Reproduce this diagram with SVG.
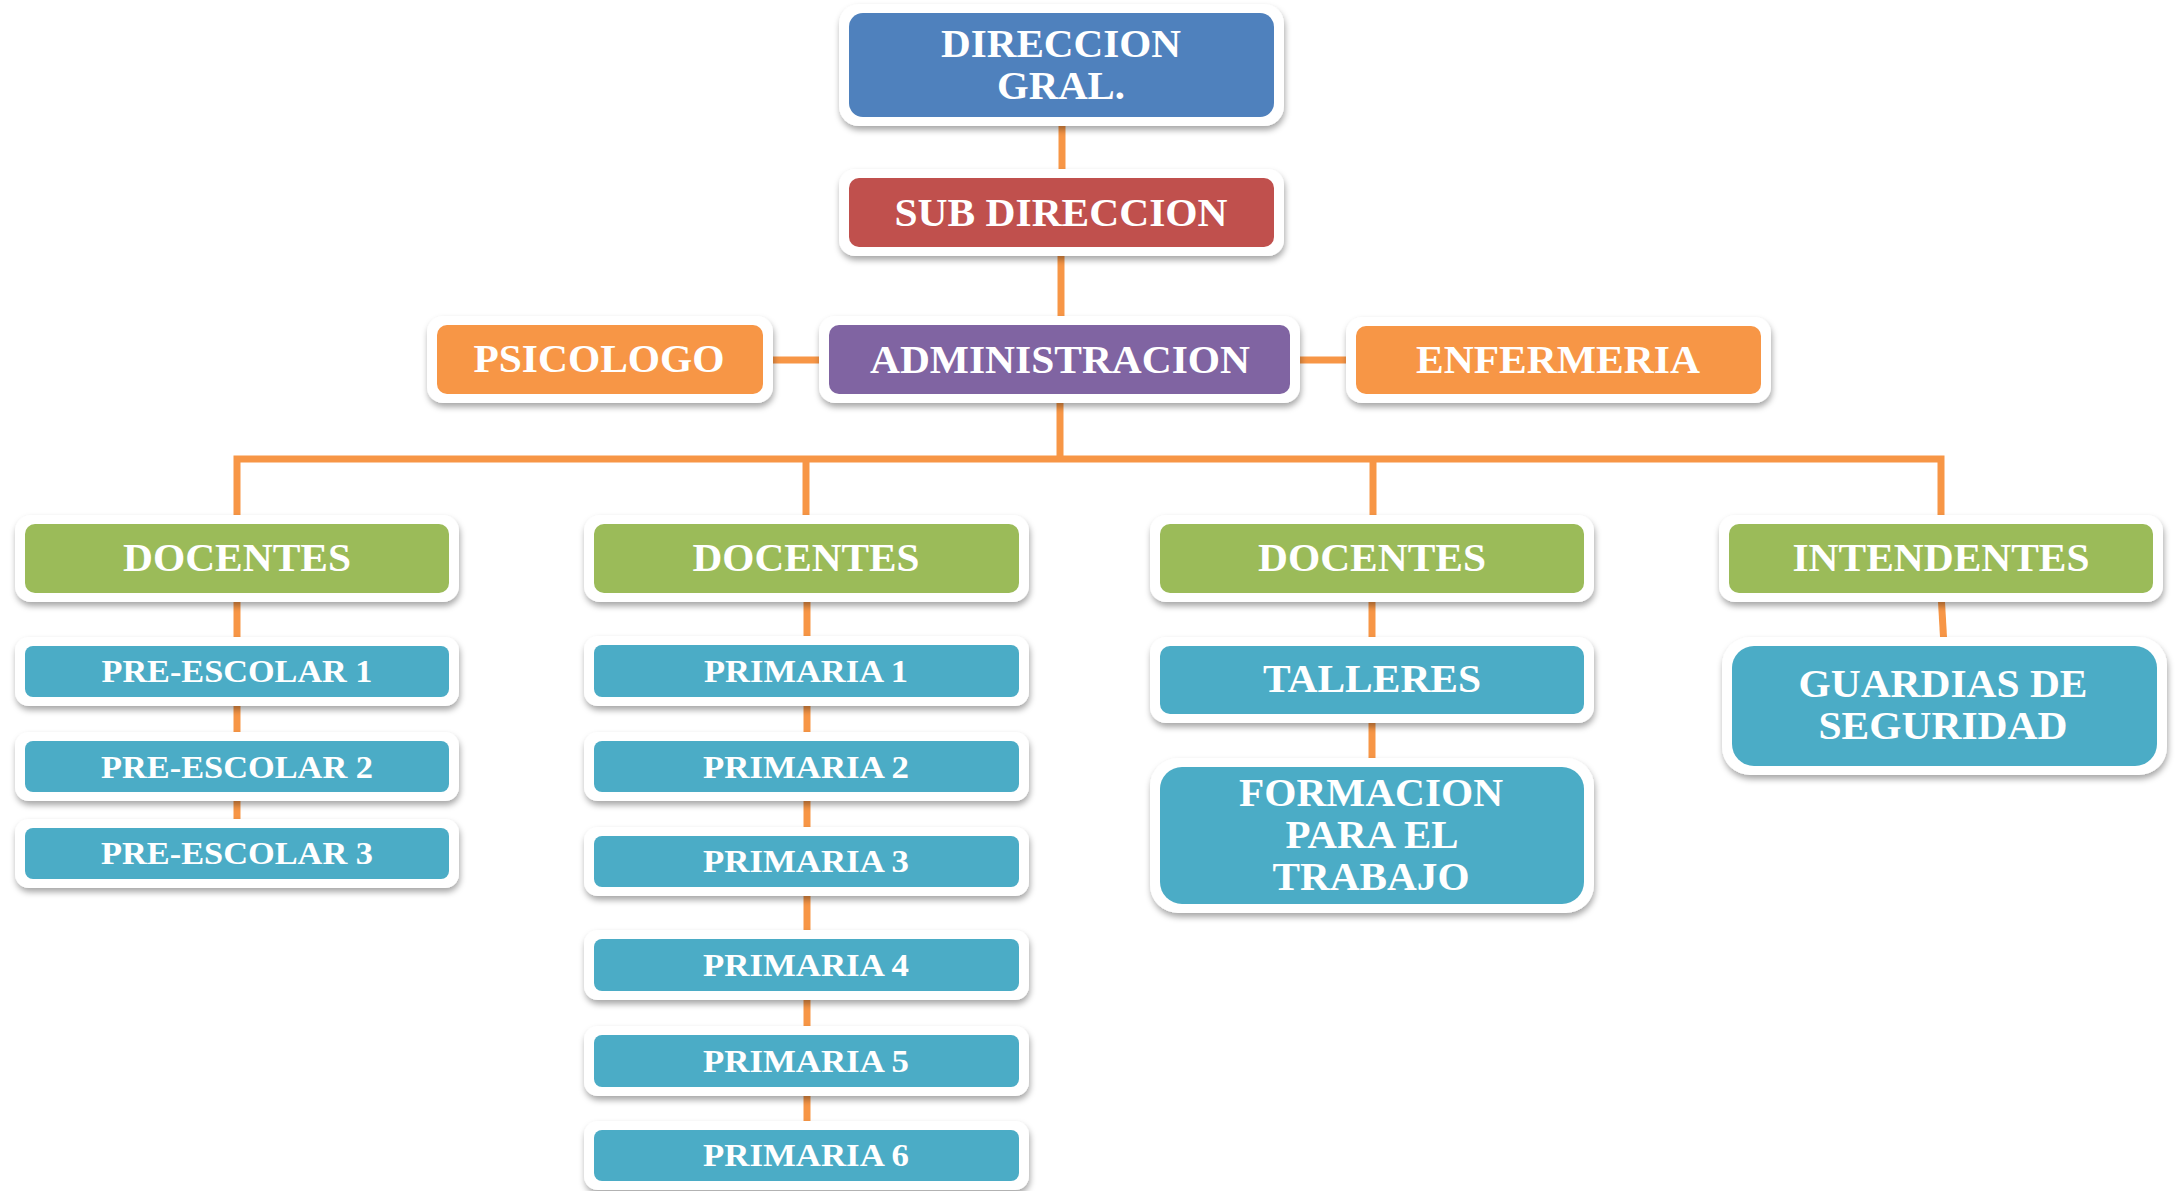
<svg xmlns="http://www.w3.org/2000/svg" width="2176" height="1191" viewBox="0 0 2176 1191">
<defs>
<filter id="sh" x="-10%" y="-20%" width="120%" height="150%">
<feDropShadow dx="1" dy="4" stdDeviation="3" flood-color="#000" flood-opacity="0.35"/>
</filter>
<style>
.frame{fill:#ffffff;filter:url(#sh)}
.blue{fill:#4F81BD}.red{fill:#C0504D}.purple{fill:#8064A2}.orange{fill:#F79646}.green{fill:#9BBB59}.teal{fill:#4BACC6}
.t{font-family:"Liberation Serif","Times New Roman",serif;font-weight:bold;fill:#ffffff;text-anchor:middle}
.big{font-size:39px}.small{font-size:31px}
.conn{fill:none;stroke:#F79646;stroke-width:7;stroke-linejoin:miter}
</style>
</defs>
<rect width="2176" height="1191" fill="#ffffff"/>
<g id="connectors" class="conn">
<path d="M1062,117 V178"/>
<path d="M1061,247 V325"/>
<path d="M763,360 H829"/>
<path d="M1290,360 H1356"/>
<path d="M1060,394 V459"/>
<path d="M237,524 V459 H1941 V524"/>
<path d="M806,459 V524"/>
<path d="M1373,459 V524"/>
<path d="M237,593 V646"/>
<path d="M237,697 V741"/>
<path d="M237,792 V828"/>
<path d="M807,593 V645"/>
<path d="M807,697 V741"/>
<path d="M807,792 V836"/>
<path d="M807,887 V939"/>
<path d="M807,991 V1035"/>
<path d="M807,1087 V1130"/>
<path d="M1372,593 V646"/>
<path d="M1372,714 V767"/>
<path d="M1941,593 L1944,646"/>
</g>
<g id="dir">
<rect class="frame" x="839" y="4" width="445" height="122" rx="20"/>
<rect class="blue" x="849" y="13" width="425" height="104" rx="14"/>
<text class="t big" x="1061" y="57" textLength="240" lengthAdjust="spacingAndGlyphs">DIRECCION</text>
<text class="t big" x="1061" y="99" textLength="128" lengthAdjust="spacingAndGlyphs">GRAL.</text>
</g>
<g id="sub">
<rect class="frame" x="839" y="169" width="445" height="87" rx="16"/>
<rect class="red" x="849" y="178" width="425" height="69" rx="10"/>
<text class="t big" x="1061" y="226" textLength="333" lengthAdjust="spacingAndGlyphs">SUB DIRECCION</text>
</g>
<g id="psicologo">
<rect class="frame" x="427" y="316" width="346" height="87" rx="16"/>
<rect class="orange" x="437" y="325" width="326" height="69" rx="10"/>
<text class="t big" x="599" y="372" textLength="251" lengthAdjust="spacingAndGlyphs">PSICOLOGO</text>
</g>
<g id="admin">
<rect class="frame" x="819" y="316" width="481" height="87" rx="16"/>
<rect class="purple" x="829" y="325" width="461" height="69" rx="10"/>
<text class="t big" x="1060" y="373" textLength="380" lengthAdjust="spacingAndGlyphs">ADMINISTRACION</text>
</g>
<g id="enfermeria">
<rect class="frame" x="1346" y="317" width="425" height="86" rx="16"/>
<rect class="orange" x="1356" y="326" width="405" height="68" rx="10"/>
<text class="t big" x="1558" y="373" textLength="284" lengthAdjust="spacingAndGlyphs">ENFERMERIA</text>
</g>
<g id="docentes1">
<rect class="frame" x="15" y="515" width="444" height="87" rx="16"/>
<rect class="green" x="25" y="524" width="424" height="69" rx="10"/>
<text class="t big" x="237" y="571" textLength="228" lengthAdjust="spacingAndGlyphs">DOCENTES</text>
</g>
<g id="docentes2">
<rect class="frame" x="584" y="515" width="445" height="87" rx="16"/>
<rect class="green" x="594" y="524" width="425" height="69" rx="10"/>
<text class="t big" x="806" y="571" textLength="227" lengthAdjust="spacingAndGlyphs">DOCENTES</text>
</g>
<g id="docentes3">
<rect class="frame" x="1150" y="515" width="444" height="87" rx="16"/>
<rect class="green" x="1160" y="524" width="424" height="69" rx="10"/>
<text class="t big" x="1372" y="571" textLength="228" lengthAdjust="spacingAndGlyphs">DOCENTES</text>
</g>
<g id="intendentes">
<rect class="frame" x="1719" y="515" width="444" height="87" rx="16"/>
<rect class="green" x="1729" y="524" width="424" height="69" rx="10"/>
<text class="t big" x="1941" y="571" textLength="297" lengthAdjust="spacingAndGlyphs">INTENDENTES</text>
</g>
<g id="pre1">
<rect class="frame" x="15" y="637" width="444" height="69" rx="14"/>
<rect class="teal" x="25" y="646" width="424" height="51" rx="8"/>
<text class="t small" x="237" y="682" textLength="271" lengthAdjust="spacingAndGlyphs">PRE-ESCOLAR 1</text>
</g>
<g id="pre2">
<rect class="frame" x="15" y="732" width="444" height="69" rx="14"/>
<rect class="teal" x="25" y="741" width="424" height="51" rx="8"/>
<text class="t small" x="237" y="778" textLength="272" lengthAdjust="spacingAndGlyphs">PRE-ESCOLAR 2</text>
</g>
<g id="pre3">
<rect class="frame" x="15" y="819" width="444" height="69" rx="14"/>
<rect class="teal" x="25" y="828" width="424" height="51" rx="8"/>
<text class="t small" x="237" y="864" textLength="272" lengthAdjust="spacingAndGlyphs">PRE-ESCOLAR 3</text>
</g>
<g id="prim1">
<rect class="frame" x="584" y="636" width="445" height="70" rx="14"/>
<rect class="teal" x="594" y="645" width="425" height="52" rx="8"/>
<text class="t small" x="806" y="682" textLength="204" lengthAdjust="spacingAndGlyphs">PRIMARIA 1</text>
</g>
<g id="prim2">
<rect class="frame" x="584" y="732" width="445" height="69" rx="14"/>
<rect class="teal" x="594" y="741" width="425" height="51" rx="8"/>
<text class="t small" x="806" y="778" textLength="206" lengthAdjust="spacingAndGlyphs">PRIMARIA 2</text>
</g>
<g id="prim3">
<rect class="frame" x="584" y="827" width="445" height="69" rx="14"/>
<rect class="teal" x="594" y="836" width="425" height="51" rx="8"/>
<text class="t small" x="806" y="872" textLength="206" lengthAdjust="spacingAndGlyphs">PRIMARIA 3</text>
</g>
<g id="prim4">
<rect class="frame" x="584" y="930" width="445" height="70" rx="14"/>
<rect class="teal" x="594" y="939" width="425" height="52" rx="8"/>
<text class="t small" x="806" y="976" textLength="206" lengthAdjust="spacingAndGlyphs">PRIMARIA 4</text>
</g>
<g id="prim5">
<rect class="frame" x="584" y="1026" width="445" height="70" rx="14"/>
<rect class="teal" x="594" y="1035" width="425" height="52" rx="8"/>
<text class="t small" x="806" y="1072" textLength="206" lengthAdjust="spacingAndGlyphs">PRIMARIA 5</text>
</g>
<g id="prim6">
<rect class="frame" x="584" y="1121" width="445" height="69" rx="14"/>
<rect class="teal" x="594" y="1130" width="425" height="51" rx="8"/>
<text class="t small" x="806" y="1166" textLength="206" lengthAdjust="spacingAndGlyphs">PRIMARIA 6</text>
</g>
<g id="talleres">
<rect class="frame" x="1150" y="637" width="444" height="86" rx="16"/>
<rect class="teal" x="1160" y="646" width="424" height="68" rx="10"/>
<text class="t big" x="1372" y="692" textLength="218" lengthAdjust="spacingAndGlyphs">TALLERES</text>
</g>
<g id="formacion">
<rect class="frame" x="1150" y="758" width="444" height="155" rx="28"/>
<rect class="teal" x="1160" y="767" width="424" height="137" rx="22"/>
<text class="t big" x="1371" y="806" textLength="264" lengthAdjust="spacingAndGlyphs">FORMACION</text>
<text class="t big" x="1372" y="848" textLength="173" lengthAdjust="spacingAndGlyphs">PARA EL</text>
<text class="t big" x="1371" y="890" textLength="197" lengthAdjust="spacingAndGlyphs">TRABAJO</text>
</g>
<g id="guardias">
<rect class="frame" x="1722" y="637" width="445" height="138" rx="28"/>
<rect class="teal" x="1732" y="646" width="425" height="120" rx="22"/>
<text class="t big" x="1943" y="697" textLength="289" lengthAdjust="spacingAndGlyphs">GUARDIAS DE</text>
<text class="t big" x="1943" y="739" textLength="249" lengthAdjust="spacingAndGlyphs">SEGURIDAD</text>
</g>
</svg>
